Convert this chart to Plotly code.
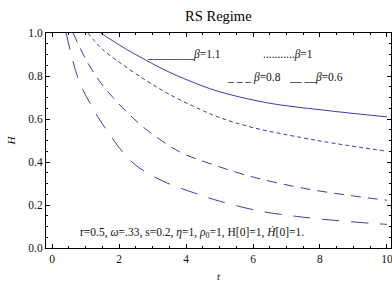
import plotly.graph_objects as go

# beta = 1.1 (solid)
t_b11 = [1.46, 2.0, 2.8, 3.5, 4.42, 5.0, 6.4, 8.4, 10.0]
H_b11 = [1.0, 0.945, 0.874, 0.818, 0.758, 0.727, 0.676, 0.636, 0.61]
# beta = 1 (short dash)
t_b1 = [1.07, 1.5, 2.0, 2.8, 3.5, 4.42, 5.0, 6.0, 7.4, 8.5, 10.0]
H_b1 = [1.0, 0.925, 0.865, 0.78, 0.715, 0.645, 0.607, 0.56, 0.515, 0.485, 0.45]
# beta = 0.8 (medium dash)
t_b08 = [0.63, 1.0, 1.4, 1.82, 2.3, 2.8, 3.8, 4.8, 6.0, 7.5, 9.0, 10.0]
H_b08 = [1.0, 0.88, 0.78, 0.70, 0.622, 0.553, 0.448, 0.388, 0.33, 0.278, 0.242, 0.222]
# beta = 0.6 (long dash)
t_b06 = [0.42, 0.8, 1.2, 1.6, 2.4, 3.3, 4.25, 5.0, 6.2, 7.3, 8.4, 9.6, 10.0]
H_b06 = [1.0, 0.78, 0.655, 0.555, 0.398, 0.312, 0.256, 0.218, 0.172, 0.147, 0.129, 0.114, 0.11]

x_ticks = [0, 2, 4, 6, 8, 10]
y_ticks = [0.0, 0.2, 0.4, 0.6, 0.8, 1.0]
y_ticklabels = ["0.0", "0.2", "0.4", "0.6", "0.8", "1.0"]

color = "rgb(60,60,170)"
font = "Liberation Serif"

fig = go.Figure()
series = [
    (t_b11, H_b11, "solid"),
    (t_b1, H_b1, "4px,3px"),
    (t_b08, H_b08, "10px,7px"),
    (t_b06, H_b06, "17px,12px"),
]
for t, h, dash in series:
    fig.add_trace(go.Scatter(x=t, y=h, mode="lines",
                             line=dict(color=color, width=1, dash=dash, shape="spline", smoothing=1.0),
                             showlegend=False, hoverinfo="skip"))

ann_font = dict(family=font, size=11.5, color="#111")
legend_labels = [
    dict(x=5.10, y=0.898, text="________<i>β</i>=1.1"),
    dict(x=7.85, y=0.898, text="...........<i>β</i>=1"),
    dict(x=6.90, y=0.795, text="_ _ _ <i>β</i>=0.8"),
    dict(x=8.75, y=0.795, text="__ __<i>β</i>=0.6"),
]
for a in legend_labels:
    fig.add_annotation(x=a["x"], y=a["y"], text=a["text"], xref="x", yref="y",
                       xanchor="right", yanchor="middle", showarrow=False, font=ann_font)
fig.add_annotation(x=0.78, y=0.074, xref="x", yref="y", xanchor="left", yanchor="middle",
                   showarrow=False, font=ann_font,
                   text="r=0.5, <i>ω</i>=.33, s=0.2, <i>η</i>=1, <i>ρ</i><sub>0</sub>=1, H[0]=1, <i>H\u0307</i>[0]=1.")

axis_common = dict(showline=True, linecolor="black", linewidth=1, mirror="ticks",
                   ticks="inside", ticklen=4, tickcolor="black", showgrid=False,
                   zeroline=False, tickfont=dict(family=font, size=11.5, color="#111"),
                   ticklabeloverflow="allow")

fig.update_xaxes(range=[-0.18, 10.12], tickvals=x_ticks,
                 minor=dict(dtick=0.5, ticks="inside", ticklen=2, tickcolor="black"),
                 title=dict(text="<i>t</i>", font=dict(family=font, size=11, color="#111"), standoff=12),
                 **axis_common)
fig.update_yaxes(range=[0, 1.0], tickvals=y_ticks, ticktext=y_ticklabels,
                 minor=dict(dtick=0.05, ticks="inside", ticklen=2, tickcolor="black"),
                 title=dict(text="<i>H</i>", font=dict(family=font, size=11, color="#111"), standoff=10),
                 **axis_common)

fig.update_layout(
    width=392, height=282,
    margin=dict(l=46, r=1, t=33, b=34, autoexpand=False),
    plot_bgcolor="white", paper_bgcolor="white",
    title=dict(text="RS Regime", x=0.557, xanchor="center", y=0.945, yanchor="middle",
               font=dict(family=font, size=14.5, color="black")),
)

fig.write_html("out.html", config={"displayModeBar": False},
               post_script="document.body.style.margin='0';document.body.style.overflow='hidden';")
